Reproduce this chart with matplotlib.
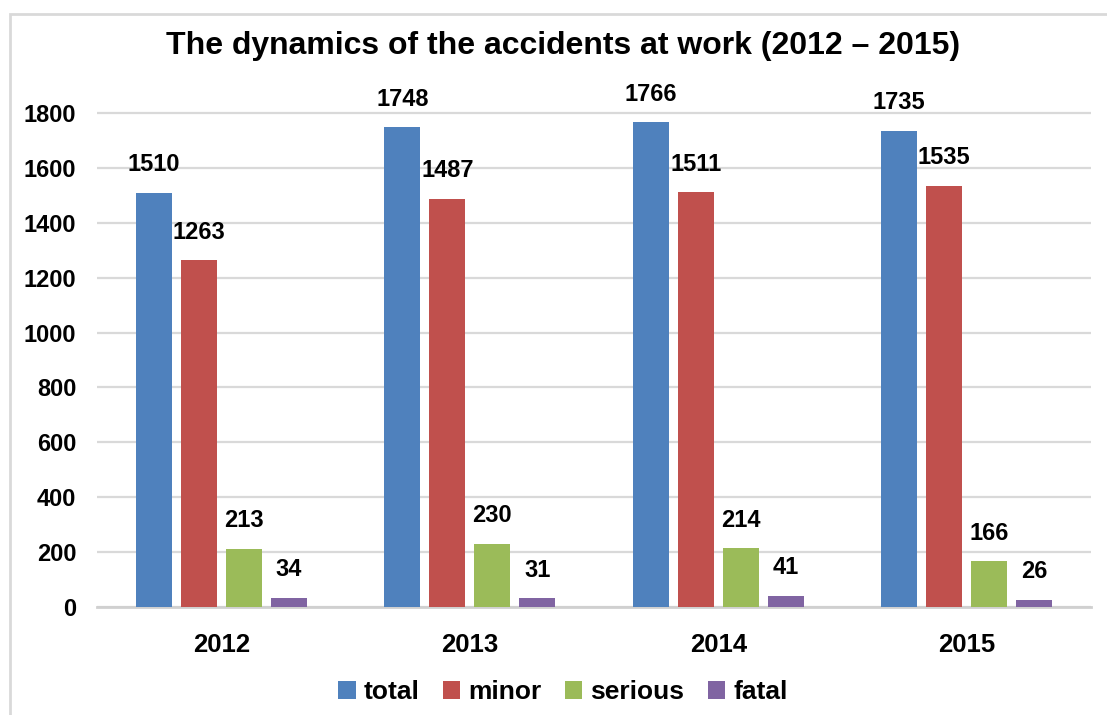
"""
Bar chart of accidents at work by severity, 2012-2015.
"""

import numpy as np
from matplotlib import pyplot
from matplotlib.patches import Rectangle

years = ['2012', '2013', '2014', '2015']
series = ['total', 'minor', 'serious', 'fatal']
total = [1510, 1748, 1766, 1735]
minor = [1263, 1487, 1511, 1535]
serious = [213, 230, 214, 166]
fatal = [34, 31, 41, 26]
colors = ['#4f81bd', '#c0504d', '#9bbb59', '#8064a2']

pyplot.rc('font', family='Liberation Sans', weight='bold', size=17)
fig = pyplot.figure(figsize=(11.07, 7.15), dpi=100)
ax = fig.add_axes([97 / 1107, 1 - 607 / 715, 994 / 1107, 494 / 715 * 2000 / 1800])

x = np.arange(len(years))
pitch = 0.181
width = 0.145
for i, (name, vals) in enumerate(zip(series, [total, minor, serious, fatal])):
    pos = x + (i - 1.5) * pitch
    bars = ax.bar(pos, vals, width, color=colors[i], label=name, zorder=3)
    ax.bar_label(bars, labels=[str(v) for v in vals], padding=12,
                 fontsize=17, fontweight='bold')

ax.set_xlim(-0.5, 3.5)
ax.set_ylim(0, 2000)
ax.set_yticks(range(0, 2000, 200))
ax.set_xticks(x)
ax.set_xticklabels(years, fontsize=18.5)
ax.tick_params(axis='both', length=0)
ax.tick_params(axis='x', pad=19)
ax.tick_params(axis='y', pad=15, labelsize=17)
ax.grid(axis='y', color='#d9d9d9', linewidth=1.6, zorder=0)
for side in ['top', 'right', 'left']:
    ax.spines[side].set_visible(False)
ax.spines['bottom'].set_color('#d0d0d0')
ax.spines['bottom'].set_linewidth(2)

fig.text(0.509, 1 - 46 / 715, 'The dynamics of the accidents at work (2012 \u2013 2015)',
         ha='center', va='center', fontsize=23, fontweight='bold')

fig.legend(*ax.get_legend_handles_labels(), loc='center',
           bbox_to_anchor=(563 / 1107, 1 - 692 / 715),
           ncol=4, frameon=False, handlelength=0.65, handleheight=0.65,
           handletextpad=0.3, columnspacing=0.9, fontsize=19)

# chart frame
fig.add_artist(Rectangle((10 / 1107, -0.1), 1.2, 1 - 14 / 715 + 0.1,
                         transform=fig.transFigure, fill=False,
                         edgecolor='#d9d9d9', linewidth=2))

fig.savefig('out.png', dpi=100)
